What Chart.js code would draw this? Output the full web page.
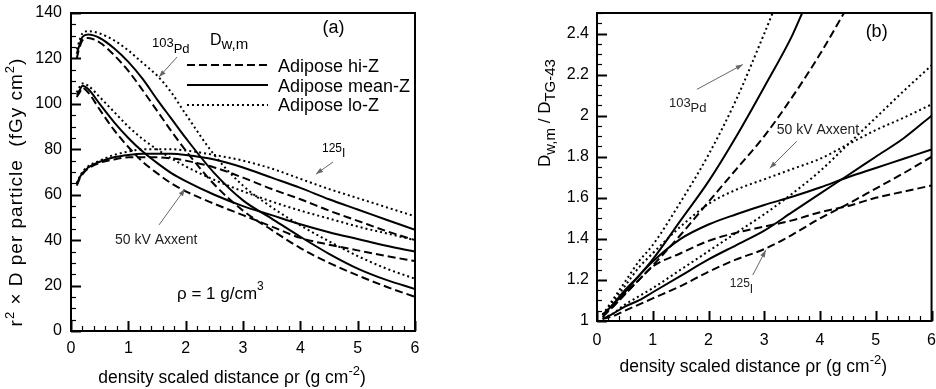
<!DOCTYPE html>
<html>
<head>
<meta charset="utf-8">
<script src="https://cdn.jsdelivr.net/npm/chart.js@4.4.1/dist/chart.umd.min.js"></script>
<style>
  body { margin: 0; background: #fff; }
  .panel { position: absolute; top: 0; width: 468px; height: 389px; }
</style>
</head>
<body>
<div class="panel" style="left:0"><canvas id="chartA"></canvas></div>
<div class="panel" style="left:468px"><canvas id="chartB"></canvas></div>
<script>
// ---- panel (a): r^2 x D per particle (fGy cm^2) vs density scaled distance
const distA   = [0.1, 0.15, 0.2, 0.3, 0.5, 0.75, 1, 1.25, 1.5, 1.75, 2, 2.5, 3, 3.5, 4, 4.5, 5, 5.5, 6];
const pdHiA   = [120, 125, 128, 129, 127, 121.5, 114.5, 106, 97, 88, 79.5, 64.5, 53, 44.5, 36.5, 30, 24.5, 19.5, 15];
const pdMeanA = [122, 126, 129.5, 130.5, 129, 124.5, 118.5, 111, 102, 93.5, 85, 69.5, 57.5, 49.5, 41.5, 34, 27.5, 22.5, 18.5];
const pdLoA   = [124, 128, 131, 132, 131, 128, 123.5, 118, 112.5, 105, 95.5, 77.5, 64, 54.5, 46.5, 39.5, 33, 27.5, 23];
const axHiA   = [103, 105, 107, 105, 97.5, 88.5, 81, 74.5, 69.5, 65, 61.5, 56, 51, 46, 41, 38, 35.5, 33, 30.8];
const axMeanA = [104, 106, 108, 106.5, 100, 92, 85, 79, 74, 69.5, 66, 60, 55, 51, 47, 43.5, 40.5, 37.5, 35];
const axLoA   = [105, 107.5, 109, 108, 103, 96.5, 90, 84.5, 80, 76, 72.5, 66.5, 61.5, 57, 53, 49.5, 46, 43, 40];
const iHiA    = [64, 67, 69, 71.5, 74, 75.5, 76.5, 76.5, 76.5, 76, 75, 72, 67.5, 62.5, 58, 53, 48.5, 44, 40];
const iMeanA  = [64.5, 67.5, 69.5, 72, 74.5, 76.5, 77.5, 78, 78, 78, 77.5, 75.5, 72, 67.5, 63, 58, 53.5, 49, 44.5];
const iLoA    = [65, 68, 70, 72.5, 75, 77.5, 79, 80, 80, 80, 79.5, 77.5, 75, 71.5, 67, 62.5, 58.5, 54.5, 50.5];

// ---- panel (b): D_w,m / D_TG-43
const distB   = [0.1, 0.25, 0.5, 0.75, 1, 1.5, 2, 2.5, 3, 3.5, 4, 4.5, 5, 5.5, 6];
const axHiB   = [1.02, 1.06, 1.13, 1.2, 1.265, 1.33, 1.39, 1.43, 1.46, 1.49, 1.53, 1.56, 1.6, 1.63, 1.66];
const axMeanB = [1.03, 1.07, 1.14, 1.22, 1.29, 1.4, 1.47, 1.52, 1.565, 1.605, 1.65, 1.7, 1.745, 1.79, 1.835];
const axLoB   = [1.03, 1.08, 1.17, 1.26, 1.33, 1.46, 1.57, 1.64, 1.69, 1.74, 1.79, 1.86, 1.93, 1.99, 2.055];
const iHiB    = [1.01, 1.02, 1.05, 1.08, 1.11, 1.17, 1.24, 1.3, 1.35, 1.42, 1.5, 1.57, 1.645, 1.72, 1.8];
const iMeanB  = [1.01, 1.03, 1.07, 1.1, 1.14, 1.22, 1.3, 1.37, 1.44, 1.53, 1.62, 1.71, 1.8, 1.89, 2.0];
const iLoB    = [1.02, 1.03, 1.08, 1.12, 1.16, 1.25, 1.34, 1.43, 1.52, 1.62, 1.73, 1.86, 1.99, 2.12, 2.245];
// Pd curves leave the top of the frame, so they stop there
const pdHiDistB   = [0.1, 0.25, 0.5, 0.75, 1, 1.5, 2, 2.5, 3, 3.5, 4, 4.43];
const pdHiB       = [1.03, 1.06, 1.13, 1.2, 1.27, 1.42, 1.58, 1.74, 1.9, 2.09, 2.3, 2.5];
const pdMeanDistB = [0.1, 0.25, 0.5, 0.75, 1, 1.5, 2, 2.5, 3, 3.5, 3.68];
const pdMeanB     = [1.03, 1.07, 1.15, 1.22, 1.3, 1.49, 1.68, 1.9, 2.14, 2.39, 2.5];
const pdLoDistB   = [0.1, 0.25, 0.5, 0.75, 1, 1.5, 2, 2.5, 3, 3.15];
const pdLoB       = [1.03, 1.09, 1.19, 1.29, 1.37, 1.58, 1.81, 2.08, 2.4, 2.5];

const legendLabels = ["Adipose hi-Z", "Adipose mean-Z", "Adipose lo-Z"];
const xTitle = "density scaled distance ρr (g cm";

const FONT = '"Liberation Sans", Arial, Helvetica, sans-serif';
const DASH = { hi: [8, 4], mean: [], lo: [2, 3] };

function series(xs, ys, kind) {
  return {
    data: xs.map((x, i) => ({ x: x, y: ys[i] })),
    borderColor: "#000",
    borderWidth: 2,
    borderDash: DASH[kind],
    pointRadius: 0,
    cubicInterpolationMode: "monotone",
    fill: false
  };
}

// rich text: segments {t, size, dy}
function drawRich(ctx, x, y, segs, opts) {
  opts = opts || {};
  ctx.save();
  ctx.translate(x, y);
  if (opts.rotate) ctx.rotate(opts.rotate);
  ctx.fillStyle = opts.color || "#000";
  ctx.textBaseline = "alphabetic";
  ctx.textAlign = "left";
  if (opts.spacing) ctx.letterSpacing = opts.spacing + "px";
  let w = 0;
  segs.forEach(s => { ctx.font = s.size + "px " + FONT; w += ctx.measureText(s.t).width; });
  let cx = opts.align === "center" ? -w / 2 : 0;
  segs.forEach(s => {
    ctx.font = s.size + "px " + FONT;
    ctx.fillText(s.t, cx, s.dy || 0);
    cx += ctx.measureText(s.t).width;
  });
  ctx.restore();
}

function arrow(ctx, x0, y0, x1, y1) {
  const ang = Math.atan2(y1 - y0, x1 - x0);
  ctx.save();
  ctx.strokeStyle = "#666";
  ctx.fillStyle = "#666";
  ctx.lineWidth = 1;
  ctx.beginPath(); ctx.moveTo(x0, y0); ctx.lineTo(x1, y1); ctx.stroke();
  ctx.beginPath();
  ctx.moveTo(x1, y1);
  ctx.lineTo(x1 - 7 * Math.cos(ang) + 2.5 * Math.sin(ang), y1 - 7 * Math.sin(ang) - 2.5 * Math.cos(ang));
  ctx.lineTo(x1 - 7 * Math.cos(ang) - 2.5 * Math.sin(ang), y1 - 7 * Math.sin(ang) + 2.5 * Math.cos(ang));
  ctx.closePath(); ctx.fill();
  ctx.restore();
}

// inward tick marks + frame
function frameTicks(t) {
  return {
    id: "frameTicks",
    afterDatasetsDraw(chart) {
      const { ctx, chartArea: a, scales: { x, y } } = chart;
      ctx.save();
      ctx.strokeStyle = "#000";
      const nx = Math.round((x.max - x.min) / t.xMinor);
      for (let i = 0; i <= nx; i++) {
        const v = x.min + i * t.xMinor;
        const major = Math.abs(v / t.xMajor - Math.round(v / t.xMajor)) < 1e-6;
        const px = Math.round(x.getPixelForValue(v)) + 0.5;
        ctx.lineWidth = major ? 2 : 1.2;
        ctx.beginPath(); ctx.moveTo(px, a.bottom); ctx.lineTo(px, a.bottom - (major ? 10 : 5)); ctx.stroke();
      }
      const ny = Math.round((y.max - y.min) / t.yMinor);
      for (let i = 0; i <= ny; i++) {
        const v = y.min + i * t.yMinor;
        const k = (v - t.yBase) / t.yMajor;
        const major = Math.abs(k - Math.round(k)) < 1e-6;
        const py = Math.round(y.getPixelForValue(v)) + 0.5;
        ctx.lineWidth = major ? 2 : 1.2;
        ctx.beginPath(); ctx.moveTo(a.left, py); ctx.lineTo(a.left + (major ? 10 : 5), py); ctx.stroke();
      }
      ctx.lineWidth = 2;
      ctx.strokeRect(a.left, a.top, a.width, a.height);
      ctx.restore();
    }
  };
}

// label offset is done with invisible tick marks so that it does not enlarge the layout padding
function baseOptions(area, yMin, yMax, yStep, offX, offY) {
  const hidden = len => ({ display: true, drawOnChartArea: false, drawTicks: true, tickLength: len, tickColor: "rgba(0,0,0,0)" });
  return {
    responsive: true,
    maintainAspectRatio: false,
    animation: false,
    devicePixelRatio: 1,
    layout: { padding: { top: area.top, right: area.right, left: 0, bottom: 0 } },
    plugins: { legend: { display: false }, tooltip: { enabled: false } },
    scales: {
      x: {
        type: "linear", min: 0, max: 6,
        grid: hidden(offX),
        border: { display: false },
        ticks: { stepSize: 1, padding: 0, color: "#000", font: { size: 16, family: FONT }, maxRotation: 0 },
        afterFit: s => { s.height = area.xHeight; }
      },
      y: {
        type: "linear", min: yMin, max: yMax,
        grid: hidden(offY),
        border: { display: false },
        ticks: {
          stepSize: yStep, includeBounds: false, padding: 0, color: "#000",
          font: { size: 16, family: FONT },
          callback: v => String(Math.round(v * 10) / 10)
        },
        afterFit: s => { s.width = area.yWidth; }
      }
    }
  };
}

// ---------- chart (a)
const annotA = {
  id: "annotA",
  afterDraw(chart) {
    const { ctx, chartArea: a, scales: { x, y } } = chart;
    const X = v => x.getPixelForValue(v), Y = v => y.getPixelForValue(v);
    // axis titles
    drawRich(ctx, (a.left + a.right) / 2 - 11, a.bottom + 52,
      [{ t: xTitle, size: 17.5 }, { t: "-2", size: 13, dy: -8 }, { t: ")", size: 17.5 }], { align: "center" });
    drawRich(ctx, 22, 192,
      [{ t: "r", size: 19 }, { t: "2", size: 13, dy: -8 }, { t: " × D per particle  (fGy cm", size: 19 },
       { t: "2", size: 13, dy: -8 }, { t: ")", size: 19 }], { align: "center", rotate: -Math.PI / 2, spacing: 1 });
    // panel tag and labels
    drawRich(ctx, X(4.58), Y(131.1), [{ t: "(a)", size: 18 }], { align: "center" });
    drawRich(ctx, X(2.425), Y(125.9), [{ t: "D", size: 16 }, { t: "w,m", size: 15, dy: 4 }]);
    drawRich(ctx, X(1.413), Y(125.1), [{ t: "103", size: 13 }, { t: "Pd", size: 13, dy: 6 }]);
    arrow(ctx, X(1.849), Y(120.6), X(1.535), Y(111.8));
    drawRich(ctx, X(4.378), Y(78.8), [{ t: "125", size: 12 }, { t: "I", size: 12, dy: 5 }]);
    arrow(ctx, X(4.57), Y(74.4), X(4.273), Y(69.1));
    drawRich(ctx, X(0.767), Y(38.3), [{ t: "50 kV Axxent", size: 14 }], { color: "#222" });
    arrow(ctx, X(1.535), Y(46.7), X(1.988), Y(62.5));
    drawRich(ctx, X(1.849), Y(14.1), [{ t: "ρ = 1 g/cm", size: 17 }, { t: "3", size: 12, dy: -9 }]);
    // legend
    const kinds = ["hi", "mean", "lo"];
    const legY = [117.1, 108.3, 99.5];
    ctx.save();
    ctx.strokeStyle = "#000";
    ctx.lineWidth = 2;
    kinds.forEach((k, i) => {
      const py = Y(legY[i]);
      ctx.setLineDash(DASH[k]);
      ctx.beginPath(); ctx.moveTo(X(2.023), py); ctx.lineTo(X(3.436), py); ctx.stroke();
      drawRich(ctx, X(3.611), py + 6.5, [{ t: legendLabels[i], size: 18 }]);
    });
    ctx.restore();
  }
};

new Chart(document.getElementById("chartA"), {
  type: "line",
  data: {
    datasets: [
      series(distA, pdHiA, "hi"), series(distA, pdMeanA, "mean"), series(distA, pdLoA, "lo"),
      series(distA, axHiA, "hi"), series(distA, axMeanA, "mean"), series(distA, axLoA, "lo"),
      series(distA, iHiA, "hi"), series(distA, iMeanA, "mean"), series(distA, iLoA, "lo")
    ]
  },
  options: baseOptions({ top: 13, right: 53, xHeight: 58, yWidth: 71 }, 0, 140, 20, 8, 9),
  plugins: [frameTicks({ xMinor: 0.2, xMajor: 1, yMinor: 5, yMajor: 20, yBase: 0 }), annotA]
});

// ---------- chart (b)
const annotB = {
  id: "annotB",
  afterDraw(chart) {
    const { ctx, chartArea: a, scales: { x, y } } = chart;
    const X = v => x.getPixelForValue(v), Y = v => y.getPixelForValue(v);
    drawRich(ctx, (a.left + a.right) / 2 - 11, a.bottom + 51,
      [{ t: xTitle, size: 17.5 }, { t: "-2", size: 13, dy: -8 }, { t: ")", size: 17.5 }], { align: "center" });
    drawRich(ctx, 82, 113,
      [{ t: "D", size: 17 }, { t: "w,m", size: 15, dy: 4.5 }, { t: " / D", size: 17 }, { t: "TG-43", size: 15, dy: 4.5 }],
      { align: "center", rotate: -Math.PI / 2 });
    drawRich(ctx, X(5.015), Y(2.381), [{ t: "(b)", size: 18 }], { align: "center" });
    drawRich(ctx, X(1.29), Y(2.04), [{ t: "103", size: 13 }, { t: "Pd", size: 13, dy: 5 }], { color: "#222" });
    arrow(ctx, X(1.791), Y(2.128), X(2.615), Y(2.249));
    drawRich(ctx, X(3.224), Y(1.909), [{ t: "50 kV Axxent", size: 14 }], { color: "#222" });
    arrow(ctx, X(3.582), Y(1.875), X(3.099), Y(1.744));
    drawRich(ctx, X(2.382), Y(1.165), [{ t: "125", size: 12 }, { t: "I", size: 12, dy: 6 }], { color: "#222" });
    arrow(ctx, X(2.794), Y(1.224), X(3.027), Y(1.345));
  }
};

new Chart(document.getElementById("chartB"), {
  type: "line",
  data: {
    datasets: [
      series(pdHiDistB, pdHiB, "hi"), series(pdMeanDistB, pdMeanB, "mean"), series(pdLoDistB, pdLoB, "lo"),
      series(distB, axHiB, "hi"), series(distB, axMeanB, "mean"), series(distB, axLoB, "lo"),
      series(distB, iHiB, "hi"), series(distB, iMeanB, "mean"), series(distB, iLoB, "lo")
    ]
  },
  options: baseOptions({ top: 13, right: 4, xHeight: 68, yWidth: 129 }, 1, 2.5, 0.2, 10, 8),
  plugins: [frameTicks({ xMinor: 0.2, xMajor: 1, yMinor: 0.05, yMajor: 0.2, yBase: 1 }), annotB]
});
</script>
</body>
</html>
